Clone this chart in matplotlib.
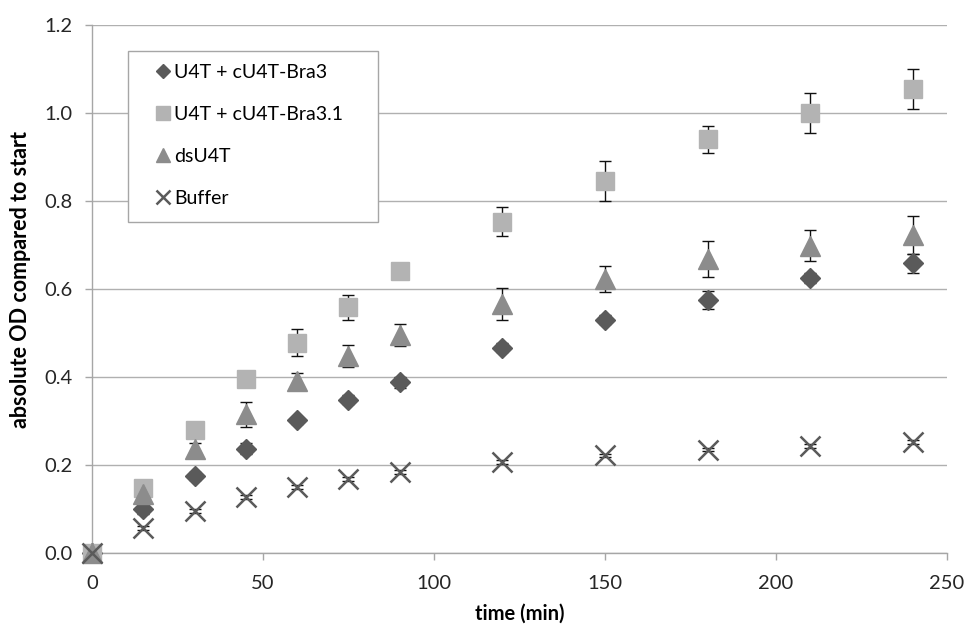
import numpy as np
import matplotlib.pyplot as plt
from matplotlib.patches import Rectangle

plt.rcParams['font.family'] = ['Lato', 'DejaVu Sans']

# ----- Data -----
time_min = [0, 15, 30, 45, 60, 75, 90, 120, 150, 180, 210, 240]

bra3 = [0.0, 0.100, 0.175, 0.237, 0.302, 0.348, 0.388, 0.467, 0.530, 0.575, 0.625, 0.658]
bra3_err = [0.0, 0.012, 0.010, 0.012, 0.008, 0.010, 0.012, 0.010, 0.010, 0.020, 0.012, 0.022]

bra31 = [0.0, 0.147, 0.280, 0.395, 0.478, 0.558, 0.641, 0.753, 0.846, 0.940, 1.000, 1.055]
bra31_err = [0.0, 0.010, 0.010, 0.008, 0.030, 0.028, 0.010, 0.033, 0.045, 0.030, 0.045, 0.045]

dsu4t = [0.0, 0.135, 0.237, 0.315, 0.390, 0.447, 0.495, 0.566, 0.623, 0.668, 0.698, 0.723]
dsu4t_err = [0.0, 0.010, 0.012, 0.028, 0.020, 0.025, 0.025, 0.036, 0.030, 0.040, 0.035, 0.043]

buffer = [0.0, 0.057, 0.095, 0.127, 0.150, 0.168, 0.184, 0.207, 0.222, 0.235, 0.243, 0.252]
buffer_err = [0.0, 0.005, 0.004, 0.004, 0.004, 0.004, 0.004, 0.004, 0.004, 0.004, 0.004, 0.004]

series = [
    ("U4T + cU4T-Bra3", bra3, bra3_err, dict(marker='D', ms=10, color='#5a5a5a', mec='#5a5a5a')),
    ("U4T + cU4T-Bra3.1", bra31, bra31_err, dict(marker='s', ms=13.5, color='#b3b3b3', mec='#b3b3b3')),
    ("dsU4T", dsu4t, dsu4t_err, dict(marker='^', ms=14, color='#8c8c8c', mec='#8c8c8c')),
    ("Buffer", buffer, buffer_err, dict(marker='x', ms=14, color='#5a5a5a', mew=1.8)),
]

W, H = 970, 629

# ----- Plot -----
fig = plt.figure(figsize=(W / 100, H / 100), dpi=100)
ax = fig.add_axes([92 / W, 1 - 553 / H, (947 - 92) / W, (553 - 25) / H])

for name, vals, err, style in series:
    ax.errorbar(time_min, vals, yerr=err, fmt='none', ecolor='#111111',
                elinewidth=1.0, capsize=4.5, capthick=1.0, zorder=3)
    ax.plot(time_min, vals, linestyle='none', label=name, zorder=4,
            clip_on=False, **style)

ax.set_xlim(0, 250)
ax.set_ylim(0, 1.2)
ax.set_xticks(np.arange(0, 251, 50))
ax.set_yticks(np.arange(0, 1.21, 0.2))
ax.set_yticklabels([f"{v:.1f}" for v in np.arange(0, 1.21, 0.2)])

ax.yaxis.grid(True, color='#b0b0b0', linewidth=1.0)
ax.set_axisbelow(True)
for side in ('top', 'right'):
    ax.spines[side].set_visible(False)
for side in ('left', 'bottom'):
    ax.spines[side].set_color('#a6a6a6')
    ax.spines[side].set_linewidth(1.0)
ax.tick_params(axis='both', colors='#a6a6a6', labelcolor='#262626',
               labelsize=14.5, length=5, width=1.0, direction='out')
ax.tick_params(axis='x', pad=11)
ax.tick_params(axis='y', pad=9)

ax.set_xlabel("time (min)", fontsize=14.5, fontweight='bold', labelpad=8)
ax.set_ylabel("absolute OD compared to start", fontsize=15.5, fontweight='bold')
ax.yaxis.set_label_coords(-61 / 855, (553 - 280) / 528)

# legend: plain square box, contents placed inside it
box = Rectangle((128 / W, 1 - 222 / H), (378 - 128) / W, (222 - 51) / H,
                transform=fig.transFigure, facecolor='white', edgecolor='#a6a6a6',
                linewidth=1.0, zorder=4.5)
ax.add_patch(box)
box.set_clip_on(False)

leg = ax.legend(loc='upper left', bbox_to_anchor=((155 - 92) / 855, (553 - 64) / 528),
                frameon=False, fontsize=14, markerscale=0.75, handlelength=0.8,
                handletextpad=0.2, labelspacing=1.29, borderpad=0, borderaxespad=0)
leg.set_zorder(5)

fig.savefig("out.png", dpi=100)
